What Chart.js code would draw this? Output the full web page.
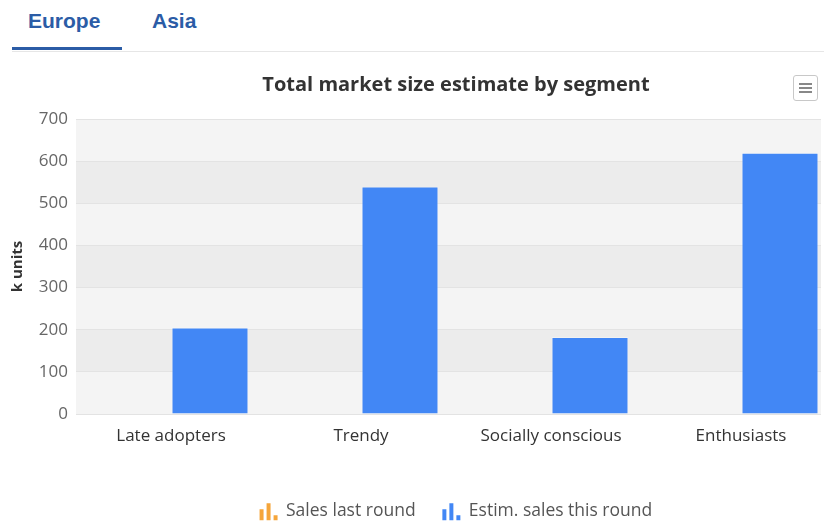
<!DOCTYPE html>
<html lang="en">
<head>
  <meta charset="UTF-8">
  <title>Total market size estimate by segment</title>
  <script src="https://cdn.jsdelivr.net/npm/chart.js"></script>
  <style>
    body { margin: 0; width: 824px; height: 523px; background: #fff; position: relative; overflow: hidden; font-family: "Open Sans", sans-serif; }
    .tabs { position: absolute; left: 12px; top: 0; width: 812px; height: 51px; border-bottom: 1px solid #e6e6e6; }
    .tab { position: absolute; top: 9px; font: bold 21px "Liberation Sans", Arial, sans-serif; color: #2b5ca6; }
    .tab.active::after { content: ""; position: absolute; left: -16px; width: 110px; top: 38px; height: 3px; background: #2b5ca6; }
    .menu { position: absolute; left: 793px; top: 75px; width: 23px; height: 24px; border: 1px solid #c8c8c8; border-radius: 3px; background: #fff; z-index: 2; }
    .menu span { position: absolute; left: 5px; width: 13px; height: 2px; background: #888; }
    /* el grafico es mas ancho que la ventana y queda recortado a la derecha */
    #box { position: absolute; left: 0; top: 55px; width: 821px; height: 475px; overflow: hidden; }
    #grafico { display: block; }
  </style>
</head>
<body>
  <div class="tabs">
    <div class="tab active" style="left:16px">Europe</div>
    <div class="tab" style="left:140px">Asia</div>
  </div>
  <div class="menu"><span style="top:7px"></span><span style="top:11px"></span><span style="top:15px"></span></div>
  <div id="box"><canvas id="grafico" width="840" height="475"></canvas></div>

  <script>
    // datos del grafico
    const categories = ['Late adopters', 'Trendy', 'Socially conscious', 'Enthusiasts'];
    const salesLastRound = [0, 0, 0, 0];
    const estimSalesThisRound = [205, 540, 183, 620];
    const yMin = 0, yMax = 700, yStep = 100;

    const orange = '#f5a53a';
    const blue = '#4287f5';

    // icono de barras para la leyenda
    function barIcon(color) {
      const c = document.createElement('canvas');
      c.width = 20; c.height = 20;
      const g = c.getContext('2d');
      g.fillStyle = color;
      g.fillRect(1, 8, 4, 11);
      g.fillRect(8, 2, 4, 17);
      g.fillRect(15, 14, 4, 5);
      return c;
    }
    const icons = [barIcon(orange), barIcon(blue)];

    // fondo con bandas alternas
    const bandas = {
      id: 'bandas',
      beforeDraw(chart) {
        const { ctx, chartArea: a, scales: { y } } = chart;
        ctx.save();
        ctx.fillStyle = '#f4f4f4';
        ctx.fillRect(a.left, a.top, a.right - a.left, a.bottom - a.top);
        ctx.fillStyle = '#ececec';
        for (let v = yMin, i = 0; v < yMax; v += yStep, i++) {
          if (i % 2 === 1) {
            const top = y.getPixelForValue(v + yStep);
            const bottom = y.getPixelForValue(v);
            ctx.fillRect(a.left, top, a.right - a.left, bottom - top);
          }
        }
        ctx.restore();
      }
    };

    const ctx = document.getElementById('grafico').getContext('2d');
    new Chart(ctx, {
      type: 'bar',
      data: {
        labels: categories,
        datasets: [
          { label: 'Sales last round', data: salesLastRound, backgroundColor: orange, borderWidth: 0 },
          { label: 'Estim. sales this round', data: estimSalesThisRound, backgroundColor: blue,
            borderColor: 'rgba(255,255,255,0.35)', borderWidth: 1 }
        ]
      },
      options: {
        responsive: false,
        animation: false,
        categoryPercentage: 0.821,
        barPercentage: 0.987,
        layout: { padding: { left: 0, right: 4, top: 0, bottom: 0 } },
        plugins: {
          title: {
            display: true,
            text: 'Total market size estimate by segment',
            fullSize: false,
            color: '#333333',
            font: { family: 'Open Sans', size: 20, weight: 'bold' },
            padding: { top: 18, bottom: 22 }
          },
          legend: {
            position: 'bottom',
            fullSize: false,
            labels: {
              usePointStyle: true,
              color: '#555555',
              font: { family: 'Open Sans', size: 17.5 },
              padding: 27,
              generateLabels(chart) {
                return chart.data.datasets.map((ds, i) => ({
                  text: ds.label,
                  fontColor: '#555555',
                  pointStyle: icons[i],
                  datasetIndex: i,
                  hidden: false,
                  lineWidth: 0
                }));
              }
            }
          },
          tooltip: { enabled: false }
        },
        scales: {
          x: {
            grid: { display: false, drawTicks: false },
            border: { display: false },
            ticks: { color: '#333333', font: { family: 'Open Sans', size: 17 }, padding: 12 },
            afterFit(scale) {
              scale.height = 61.5;
              scale.paddingLeft = 0;
              scale.paddingRight = 0;
            }
          },
          y: {
            min: yMin,
            max: yMax,
            ticks: { stepSize: yStep, color: '#666666', font: { family: 'Open Sans', size: 17 }, padding: 8 },
            grid: { color: '#e3e3e3', drawTicks: false },
            border: { display: false },
            title: {
              display: true,
              text: 'k units',
              color: '#333333',
              font: { family: 'Open Sans', size: 15, weight: 'bold' },
              padding: { top: 9, bottom: 0 }
            },
            afterFit(scale) { scale.width = 76; }
          }
        }
      },
      plugins: [bandas]
    });
  </script>
</body>
</html>
